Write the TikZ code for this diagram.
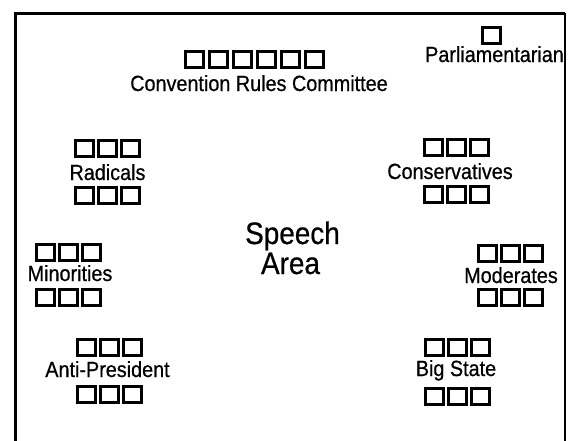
\documentclass[tikz,border=0pt]{standalone}
\usepackage{fontspec}
\setmainfont[FakeStretch=0.9,FakeBold=0.6]{Liberation Sans}
\begin{document}
\begin{tikzpicture}[x=1pt,y=-1pt,
  seat/.style={draw,line width=2.6pt,minimum width=18.4pt,minimum height=16.4pt,inner sep=0pt},
  lbl/.style={anchor=base,inner sep=0pt,font=\fontsize{22}{25}\selectfont},
  big/.style={anchor=base,inner sep=0pt,font=\fontsize{31}{34}\selectfont}]
\useasboundingbox (0,0) rectangle (568,440);
% frame
\coordinate (fbl) at (15,441);
\coordinate (ftl) at (15,13);
\coordinate (ftr) at (565,13);
\coordinate (fbr) at (565,441);
\draw[line width=3pt] (fbl) -- (ftl) -- (ftr);
\draw[line width=1.5pt] (ftr) -- (fbr);
% Convention Rules Committee
\foreach \i in {0,...,5} \node[seat] (crc\i) at ({194.5+\i*24},59.5) {};
\node[lbl] (crc) at (259,91) {Convention Rules Committee};
% Parliamentarian
\node[seat] (parb) at (491.5,35.5) {};
\node[lbl] (par) at (494.5,62) {Parliamentarian};
% Radicals
\foreach \i in {0,1,2} {
  \node[seat] (radt\i) at ({84.5+\i*23},148.5) {};
  \node[seat] (radb\i) at ({84.5+\i*23},195.5) {};
}
\node[lbl] (rad) at (107.5,180) {Radicals};
% Conservatives
\foreach \i in {0,1,2} {
  \node[seat] (cont\i) at ({433.5+\i*23},147.5) {};
  \node[seat] (conb\i) at ({433.5+\i*23},194.5) {};
}
\node[lbl] (con) at (450,179) {Conservatives};
% Minorities
\foreach \i in {0,1,2} {
  \node[seat] (mint\i) at ({45.5+\i*23},252.5) {};
  \node[seat] (minb\i) at ({45.5+\i*23},297.5) {};
}
\node[lbl] (min) at (70,281) {Minorities};
% Moderates
\foreach \i in {0,1,2} {
  \node[seat] (modt\i) at ({487.5+\i*23},253.5) {};
  \node[seat] (modb\i) at ({487.5+\i*23},297.5) {};
}
\node[lbl] (mod) at (511,283) {Moderates};
% Anti-President
\foreach \i in {0,1,2} {
  \node[seat] (antt\i) at ({86.5+\i*23},347.5) {};
  \node[seat] (antb\i) at ({86.5+\i*23},394.5) {};
}
\node[lbl] (ant) at (107.5,377) {Anti-President};
% Big State
\foreach \i in {0,1,2} {
  \node[seat] (bigt\i) at ({434.5+\i*23},347.5) {};
  \node[seat] (bigb\i) at ({434.5+\i*23},396.5) {};
}
\node[lbl] (big) at (456,376) {Big State};
% Speech Area
\node[big] (sp) at (292.5,244) {Speech};
\node[big] (ar) at (290.5,274) {Area};
\end{tikzpicture}
\end{document}
